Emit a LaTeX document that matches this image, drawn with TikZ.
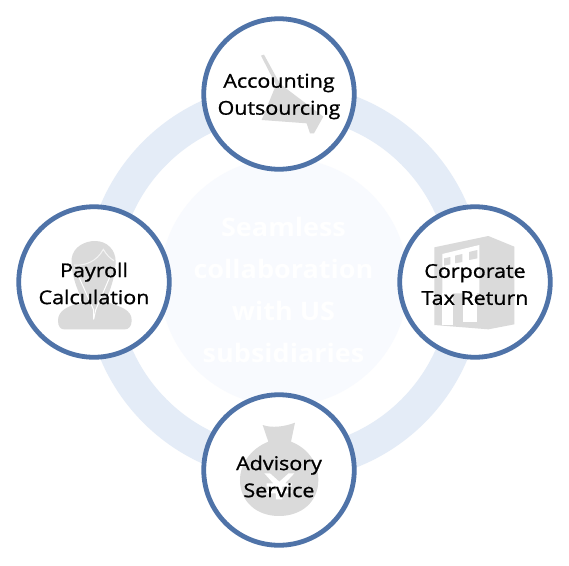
\documentclass[tikz,border=0pt]{standalone}
\usepackage{fontspec}
\setmainfont{Open Sans}
\newfontfamily\labelfont[FakeBold=1,FakeStretch=1.13]{Open Sans}
\newfontfamily\centerfont[FakeStretch=1.06]{Open Sans}
\definecolor{ringc}{HTML}{E4ECF7}
\definecolor{innerc}{HTML}{F8FAFE}
\definecolor{edgec}{HTML}{4F73A8}
\definecolor{iconc}{HTML}{DADADA}
\tikzset{
  ringline/.style={draw=ringc,line width=33pt},
  hub/.style={circle,fill=innerc,minimum size=248pt,inner sep=0pt},
  service/.style={circle,draw=edgec,fill=white,line width=4.8pt,minimum size=150.5pt,inner sep=0pt},
  svclabel/.style={align=center,text=black,font=\labelfont\fontsize{19}{27}\selectfont,inner sep=0pt},
  hubtext/.style={align=center,text=white,font=\centerfont\bfseries\fontsize{25.5}{42}\selectfont,inner sep=0pt},
  icon/.style={fill=iconc,draw=none},
  iconcut/.style={fill=white,draw=none},
  iconline/.style={draw=white,line width=1pt},
  zoomed/.style={shift={#1},x=0.3333pt,y=-0.3333pt}
}
\begin{document}
\begin{tikzpicture}[x=1pt,y=-1pt]
\useasboundingbox (0,0) rectangle (569,565);
\fill[white] (0,0) rectangle (569,565);
\coordinate (c) at (284,282);
\draw[ringline] (c) circle[radius=182.5];
\node[hub] (hub) at (c) {};
\node[hubtext] (hubt) at (283.5,290) {Seamless\\collaboration\\with US\\subsidiaries};
\node[service] (top) at (279,94) {};
\node[service] (right) at (475,282) {};
\node[service] (left) at (94,282) {};
\node[service] (bottom) at (279,470) {};
\begin{scope}[zoomed={(190,5)}]
\fill[icon] (213,152) -- (222,149) -- (262,222) -- (272,238) -- (400,335) -- (372,385) -- (360,385) -- (350,355) -- (215,345) -- (258,240) -- cycle;
\end{scope}
\begin{scope}[zoomed={(425,230)}]
\fill[icon] (28,52) -- (190,18) -- (268,50) -- (268,283) -- (190,298) -- (28,285) -- cycle;
\fill[iconcut] (52,72) -- (163,45) -- (163,190) -- (52,190) -- cycle;
\fill[icon] (57,85) -- (76,81) -- (76,103) -- (57,107) -- cycle;
\fill[icon] (90,77) -- (112,72) -- (112,96) -- (90,100) -- cycle;
\fill[icon] (132,66) -- (157,60) -- (157,85) -- (132,90) -- cycle;
\fill[iconcut] (52,190) rectangle (85,285);
\fill[iconcut] (115,185) rectangle (157,275);
\end{scope}
\begin{scope}[zoomed={(50,230)}]
\fill[icon] (24,272) .. controls (24,240) and (55,228) .. (100,215) .. controls (78,175) and (62,125) .. (65,85) .. controls (70,50) and (105,33) .. (135,33) .. controls (172,33) and (197,60) .. (197,95) .. controls (197,135) and (180,185) .. (165,215) .. controls (210,228) and (247,240) .. (245,272) .. controls (245,290) and (235,298) .. (225,298) -- (42,298) .. controls (32,298) and (24,290) .. (24,272) -- cycle;
\draw[iconline,opacity=.7] (72,105) .. controls (105,108) and (140,95) .. (160,58) .. controls (170,75) and (180,85) .. (192,92);
\draw[iconline] (84,135) -- (131,240) -- (131,268);
\draw[iconline] (182,135) -- (137,240) -- (131,268);
\end{scope}
\begin{scope}[zoomed={(190,380)}]
\fill[icon] (218,135) .. controls (245,145) and (285,140) .. (315,128) -- (303,185) .. controls (355,205) and (385,250) .. (385,300) .. controls (385,365) and (335,408) .. (267,408) .. controls (200,408) and (150,365) .. (150,300) .. controls (150,250) and (185,205) .. (235,185) -- cycle;
\fill[iconcut] (223,280) -- (240,280) -- (268,305) -- (296,280) -- (313,280) -- (285,310) -- (305,310) -- (305,320) -- (277,320) -- (277,330) -- (305,330) -- (305,340) -- (277,340) -- (277,358) -- (258,358) -- (258,340) -- (230,340) -- (230,330) -- (258,330) -- (258,320) -- (230,320) -- (230,310) -- (250,310) -- cycle;
\end{scope}
\node[svclabel] (toplabel) at (279,96.5) {Accounting\\Outsourcing};
\node[svclabel] (rightlabel) at (475,284.5) {Corporate\\Tax Return};
\node[svclabel] (leftlabel) at (94,283.5) {Payroll\\Calculation};
\node[svclabel] (bottomlabel) at (279,476.5) {Advisory\\Service};
\end{tikzpicture}
\end{document}
